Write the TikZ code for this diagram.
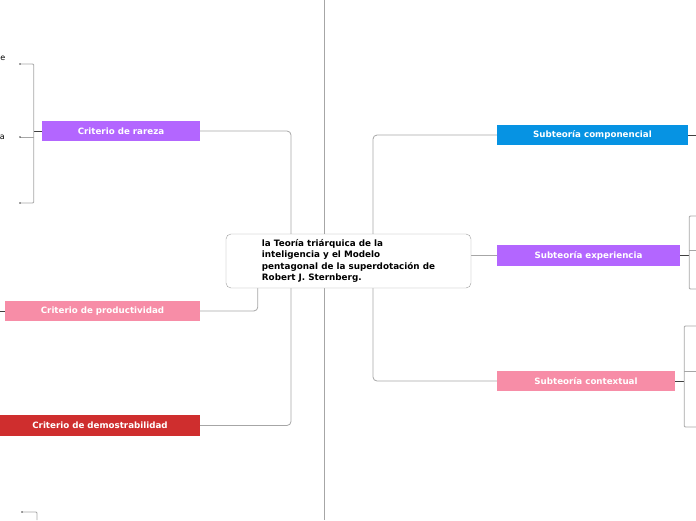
\documentclass[tikz,border=0pt]{standalone}
\usepackage{fontspec}
\setmainfont{DejaVu Sans}
\usepackage{tikz}
\usetikzlibrary{backgrounds}
\definecolor{mmpurple}{HTML}{B366FF}
\definecolor{mmblue}{HTML}{0693E3}
\definecolor{mmpink}{HTML}{F78DA7}
\definecolor{mmred}{HTML}{CF2E2E}
\tikzset{
  topicbox/.style   = {minimum height=20.5pt,inner sep=0pt,text=white,
                       font=\fontsize{8.7}{10}\selectfont\bfseries},
  centralbox/.style = {draw=gray!75,fill=white,rounded corners=5pt,
                       minimum width=245pt,minimum height=54pt,align=left,
                       font=\fontsize{8.8}{11.4}\selectfont\bfseries},
  linkline/.style   = {gray!70,line width=0.8pt,rounded corners=4pt},
  stubline/.style   = {black!75,line width=1pt},
  dotmark/.style    = {fill=black!70,inner sep=0pt,minimum size=1.6pt,circle}
}
\begin{document}
\begin{tikzpicture}[x=1pt,y=-1pt]
  \useasboundingbox (0,0) rectangle (696,520);
  % centre
  \node[centralbox] (central) at (348.5,261)
    {la Teoría triárquica de la\\inteligencia y el Modelo\\pentagonal de la superdotación de\\Robert J. Sternberg.};
  % left side
  \node[topicbox,fill=mmpurple,minimum width=158pt] (rareza) at (121,131) {Criterio de rareza};
  \node[topicbox,fill=mmpink,minimum width=195pt]   (prod)   at (102.5,311) {Criterio de productividad};
  \node[topicbox,fill=mmred,minimum width=200pt]    (demos)  at (100,425.5) {Criterio de demostrabilidad};
  % right side
  \node[topicbox,fill=mmblue,minimum width=191pt]   (compon)  at (592.5,135) {Subteoría componencial};
  \node[topicbox,fill=mmpurple,minimum width=183pt] (exper)   at (588.5,255.5) {Subteoría experiencia};
  \node[topicbox,fill=mmpink,minimum width=178pt]   (context) at (586,381) {Subteoría contextual};
  % children cut by the page edge
  \node[anchor=east,inner sep=0pt,font=\fontsize{8}{9}\selectfont] (rzA) at (5.5,58) {e};
  \node[anchor=east,inner sep=0pt,font=\fontsize{8}{9}\selectfont] (rzB) at (5,137) {a};
  \begin{pgfonlayer}{background}
    \draw[gray!70,line width=0.8pt] (324,0) -- (324,520);
    \coordinate (spineL) at (291,261);
    \coordinate (spineR) at (373,261);
    \draw[linkline] (rareza.east) -| (spineL) |- (demos.east);
    \draw[linkline] (prod.east) -| ([xshift=32pt]central.south west);
    \draw[linkline] (compon.west) -| (spineR) |- (context.west);
    \draw[linkline] (central.east |- exper.west) -- (exper.west);
  \end{pgfonlayer}
  % branches leaving the page
  \draw[stubline] (rareza.west) -- ++(-8,0) coordinate (rzJ);
  \coordinate (rz1) at (20,64);
  \coordinate (rz2) at (20,137);
  \coordinate (rz3) at (20,203);
  \draw[linkline,rounded corners=1pt] (rz1) -| (rzJ |- rz3) -- (rz3);
  \draw[linkline] (rzJ |- rz2) -- (rz2);
  \foreach \p in {rz1,rz2,rz3} \node[dotmark] at (\p) {};
  \draw[stubline] (prod.west) -- (0,311);
  \coordinate (lowA) at (22,512);
  \draw[linkline,rounded corners=1pt] (lowA) -| (37,520);
  \node[dotmark] at (lowA) {};
  \draw[stubline] (compon.east) -- (696,135);
  \draw[stubline] (exper.east) -- ++(9,0) coordinate (exJ);
  \draw[linkline,rounded corners=1pt] (696,216) -| (exJ |- 0,289) -- (696,289);
  \draw[linkline] (exJ |- 0,250) -- (696,250);
  \draw[stubline] (context.east) -- ++(9,0) coordinate (ctJ);
  \draw[linkline,rounded corners=1pt] (696,326) -| (ctJ |- 0,427) -- (696,427);
  \draw[linkline] (ctJ |- 0,371) -- (696,371);
\end{tikzpicture}
\end{document}
